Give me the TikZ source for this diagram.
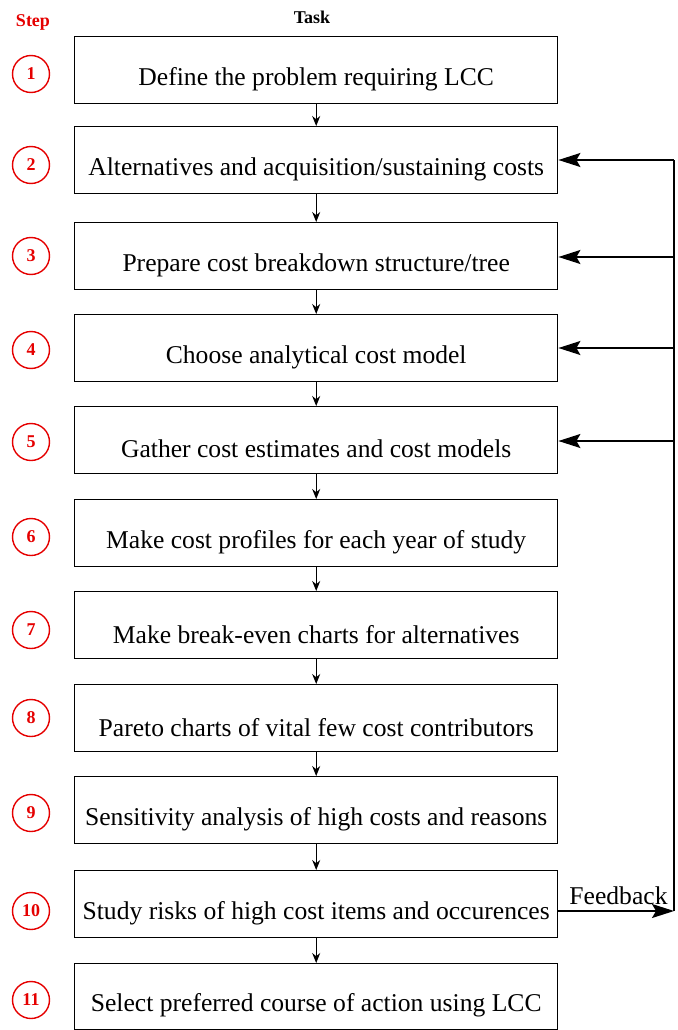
\documentclass[tikz,border=0pt]{standalone}
\usepackage{fontspec}
\setmainfont{Liberation Serif}
\usetikzlibrary{arrows.meta,calc}
\begin{document}
\begin{tikzpicture}[x=1pt,y=-1pt,
  taskbox/.style={draw,line width=1.4pt,minimum width=483pt,minimum height=67pt,inner sep=0pt,anchor=north west},
  tasktext/.style={font=\fontsize{25.6}{29}\selectfont,inner sep=0pt},
  stepcirc/.style={draw=red!90!black,line width=1.4pt,circle,minimum size=37pt,inner sep=0pt,text=red!90!black,font=\fontsize{18}{20}\selectfont\bfseries},
  flow/.style={-{Stealth[length=10pt,width=8pt]},line width=1.2pt},
  fb/.style={-{Stealth[length=22pt,width=14pt,inset=4pt]},line width=1.4pt},
  fbline/.style={line width=1.4pt}]
\useasboundingbox (0,0) rectangle (677,1030);
\node[font=\fontsize{18}{20}\selectfont\bfseries,text=red!90!black] (steph) at (33,22) {Step};
\node[font=\fontsize{18}{20}\selectfont\bfseries] (taskh) at (312,17) {Task};
% boxes
\node[taskbox] (b1) at (74,36) {};
\node[taskbox] (b2) at (74,126) {};
\node[taskbox] (b3) at (74,222) {};
\node[taskbox] (b4) at (74,314) {};
\node[taskbox] (b5) at (74,406) {};
\node[taskbox] (b6) at (74,499) {};
\node[taskbox] (b7) at (74,591) {};
\node[taskbox] (b8) at (74,684) {};
\node[taskbox] (b9) at (74,776) {};
\node[taskbox] (b10) at (74,870) {};
\node[taskbox,minimum height=66pt] (b11) at (74,963) {};
% texts
\node[tasktext] (t1) at ($(b1.center)+(0,9)$) {Define the problem requiring LCC};
\node[tasktext] (t2) at ($(b2.center)+(0,9)$) {Alternatives and acquisition/sustaining costs};
\node[tasktext] (t3) at ($(b3.center)+(0,9)$) {Prepare cost breakdown structure/tree};
\node[tasktext] (t4) at ($(b4.center)+(0,9)$) {Choose analytical cost model};
\node[tasktext] (t5) at ($(b5.center)+(0,9)$) {Gather cost estimates and cost models};
\node[tasktext] (t6) at ($(b6.center)+(0,9)$) {Make cost profiles for each year of study};
\node[tasktext] (t7) at ($(b7.center)+(0,9)$) {Make break-even charts for alternatives};
\node[tasktext] (t8) at ($(b8.center)+(0,9)$) {Pareto charts of vital few cost contributors};
\node[tasktext] (t9) at ($(b9.center)+(0,9)$) {Sensitivity analysis of high costs and reasons};
\node[tasktext] (t10) at ($(b10.center)+(0,9)$) {Study risks of high cost items and occurences};
\node[tasktext] (t11) at ($(b11.center)+(0,9)$) {Select preferred course of action using LCC};
% step circles
\node[stepcirc] (s1) at (31,74) {1};
\node[stepcirc] (s2) at (31,165) {2};
\node[stepcirc] (s3) at (31,256) {3};
\node[stepcirc] (s4) at (31,350) {4};
\node[stepcirc] (s5) at (31,442) {5};
\node[stepcirc] (s6) at (31,537) {6};
\node[stepcirc] (s7) at (31,630) {7};
\node[stepcirc] (s8) at (31,718) {8};
\node[stepcirc] (s9) at (31,813) {9};
\node[stepcirc] (s10) at (31,911) {10};
\node[stepcirc] (s11) at (31,1000) {11};
% flow arrows
\foreach \a/\b in {b1/b2,b2/b3,b3/b4,b4/b5,b5/b6,b6/b7,b7/b8,b8/b9,b9/b10,b10/b11}
  \draw[flow] (\a.south) -- (\b.north);
% feedback
\coordinate (fbcorner) at (674,911);
\coordinate (fbtop) at (674,160);
\draw[fb] (b10.east |- fbcorner) -- node[above,pos=0.52,font=\fontsize{25.6}{29}\selectfont,inner sep=6pt] (fblabel) {Feedback} (fbcorner);
\draw[fbline] (fbcorner) -- (fbtop);
\draw[fb] (fbtop) -- (b2.east |- fbtop);
\draw[fb] (674,257) -- (b3.east |- 0,257);
\draw[fb] (674,348) -- (b4.east |- 0,348);
\draw[fb] (674,441) -- (b5.east |- 0,441);
\end{tikzpicture}
\end{document}
